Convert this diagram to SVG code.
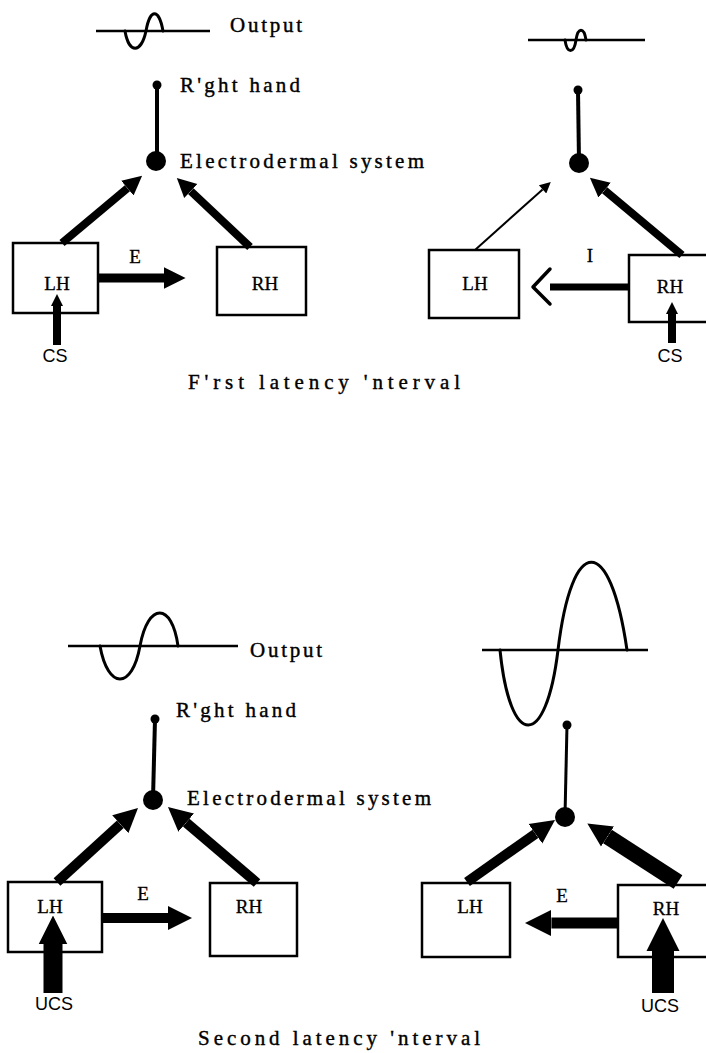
<svg xmlns="http://www.w3.org/2000/svg" width="706" height="1053" viewBox="0 0 706 1053">
<style>
  .box{fill:#fff;stroke:#000;stroke-width:2.5}
  .t{font-family:"Liberation Serif","DejaVu Serif",serif;font-size:21px;fill:#000;stroke:#000;stroke-width:0.4}
  .tb{font-family:"Liberation Serif","DejaVu Serif",serif;font-size:19px;fill:#000;text-anchor:middle;stroke:#000;stroke-width:0.3}
  .ts{font-family:"Liberation Sans Narrow","Liberation Sans",sans-serif;font-size:18px;fill:#000;text-anchor:middle}
  .base{stroke:#000;stroke-width:2.5;fill:none}
  .wave{stroke:#000;stroke-width:3;fill:none;stroke-linecap:round}
  .stem{stroke:#000;stroke-width:4}
  .ar{stroke:#000;fill:none;marker-end:url(#head)}
  .arw{stroke:#000;fill:none;marker-end:url(#headW)}
</style>
<defs>
  <marker id="head" viewBox="0 0 10 10" refX="0" refY="5" markerWidth="2.4" markerHeight="2.6" orient="auto" markerUnits="strokeWidth">
    <path d="M0,0 L10,5 L0,10 z" fill="#000"/>
  </marker>
  <marker id="headW" viewBox="0 0 10 10" refX="0" refY="5" markerWidth="1.5" markerHeight="1.8" orient="auto" markerUnits="strokeWidth">
    <path d="M0,0 L10,5 L0,10 z" fill="#000"/>
  </marker>
  <marker id="headThin" viewBox="0 0 10 10" refX="0" refY="5" markerWidth="14" markerHeight="11" orient="auto" markerUnits="userSpaceOnUse">
    <path d="M0,0 L10,5 L0,10 z" fill="#000"/>
  </marker>
</defs>

<!-- ===== Panel 1 ===== -->
<g id="p1-output">
  <line class="base" x1="96" y1="31" x2="210" y2="31"/>
  <path class="wave" d="M125,31 C129,54 141,54 146,31 C150,8 159,8 163,31"/>
  <text class="t" x="230" y="32" textLength="72" lengthAdjust="spacing">Output</text>
</g>
<g id="p1-hand">
  <line class="stem" x1="157" y1="85" x2="157" y2="160"/>
  <circle cx="157" cy="85" r="4.5"/>
  <text class="t" x="180" y="92" textLength="120" lengthAdjust="spacing">R'ght hand</text>
</g>
<g id="p1-eds">
  <circle cx="156" cy="161" r="10"/>
  <text class="t" x="180" y="168" textLength="244" lengthAdjust="spacing">Electrodermal system</text>
</g>
<g id="p1-lh">
  <rect class="box" x="13" y="243" width="85" height="70"/>
  <text class="tb" x="57" y="290">LH</text>
</g>
<g id="p1-rh">
  <rect class="box" x="217" y="247" width="89" height="68"/>
  <text class="tb" x="265" y="290">RH</text>
</g>
<g id="p1-cs"><text class="ts" x="55" y="362">CS</text></g>
<g id="p1-title"><text class="t" x="188" y="389" textLength="272" lengthAdjust="spacing">F'rst latency 'nterval</text></g>

<!-- ===== Panel 2 ===== -->
<g id="p2-output">
  <line class="base" x1="528" y1="40" x2="645" y2="40"/>
  <path class="wave" d="M565,40 C567,54 574,54 576,40 C578,27 584,27 586,40"/>
</g>
<g id="p2-hand">
  <line class="stem" x1="578" y1="90" x2="579" y2="162"/>
  <circle cx="578" cy="90" r="4.5"/>
</g>
<g id="p2-eds"><circle cx="579" cy="163" r="10"/></g>
<g id="p2-lh">
  <rect class="box" x="429" y="250" width="90" height="68"/>
  <text class="tb" x="475" y="290">LH</text>
</g>
<g id="p2-rh">
  <rect class="box" x="629" y="255" width="90" height="67"/>
  <text class="tb" x="670" y="293">RH</text>
</g>
<g id="p2-cs"><text class="ts" x="670" y="362">CS</text></g>

<!-- ===== Panel 3 ===== -->
<g id="p3-output">
  <line class="base" x1="68" y1="646" x2="238" y2="646"/>
  <path class="wave" d="M100,646 C108,690 132,690 140,646 C148,602 172,602 178,646"/>
  <text class="t" x="250" y="657" textLength="72" lengthAdjust="spacing">Output</text>
</g>
<g id="p3-hand">
  <line class="stem" x1="155" y1="719" x2="153" y2="799"/>
  <circle cx="155" cy="719" r="4.5"/>
  <text class="t" x="176" y="717" textLength="120" lengthAdjust="spacing">R'ght hand</text>
</g>
<g id="p3-eds">
  <circle cx="153" cy="800" r="10"/>
  <text class="t" x="187" y="805" textLength="244" lengthAdjust="spacing">Electrodermal system</text>
</g>
<g id="p3-lh">
  <rect class="box" x="8" y="882" width="94" height="70"/>
  <text class="tb" x="50" y="913">LH</text>
</g>
<g id="p3-rh">
  <rect class="box" x="210" y="883" width="87" height="73"/>
  <text class="tb" x="249" y="913">RH</text>
</g>
<g id="p3-ucs"><text class="ts" x="54" y="1010">UCS</text></g>
<g id="p3-title"><text class="t" x="198" y="1045" textLength="282" lengthAdjust="spacing">Second latency 'nterval</text></g>

<!-- ===== Panel 4 ===== -->
<g id="p4-output">
  <line class="base" x1="482" y1="650" x2="648" y2="650"/>
  <path class="wave" d="M500,650 C510,750 546,750 558,650 C572,533 610,533 627,650"/>
</g>
<g id="p4-hand">
  <line class="stem" x1="567" y1="725" x2="565" y2="816" style="stroke-width:3"/>
  <circle cx="567" cy="725" r="4.5"/>
</g>
<g id="p4-eds"><circle cx="565" cy="817" r="10"/></g>
<g id="p4-lh">
  <rect class="box" x="422" y="883" width="88" height="74"/>
  <text class="tb" x="470" y="913">LH</text>
</g>
<g id="p4-rh">
  <rect class="box" x="618" y="885" width="100" height="72"/>
  <text class="tb" x="666" y="915">RH</text>
</g>
<g id="p4-ucs"><text class="ts" x="660" y="1012">UCS</text></g>

<!-- ===== Connectors ===== -->
<g id="connectors">
  <!-- panel 1 -->
  <line class="ar" x1="62" y1="243" x2="127.4" y2="188.2" stroke-width="8"/>
  <line class="ar" x1="250" y1="247" x2="190.8" y2="191.1" stroke-width="8"/>
  <line class="ar" x1="98" y1="278" x2="164" y2="278" stroke-width="9"/>
  <text class="tb" x="135" y="263">E</text>
  <line class="ar" x1="57" y1="345" x2="57" y2="306" stroke-width="8" style="marker-end:url(#headW)"/>
  <!-- panel 2 -->
  <line x1="475" y1="250" x2="542.6" y2="189.4" stroke="#000" stroke-width="2" marker-end="url(#headThin)"/>
  <line class="ar" x1="682" y1="255" x2="604.6" y2="190.2" stroke-width="8"/>
  <line x1="629" y1="287" x2="550" y2="287" stroke="#000" stroke-width="7"/>
  <polyline points="550,269 533,287 550,304" fill="none" stroke="#000" stroke-width="3.5" stroke-linecap="round" stroke-linejoin="round"/>
  <text class="tb" x="590" y="262">I</text>
  <line class="ar" x1="672" y1="343" x2="672" y2="314" stroke-width="8" style="marker-end:url(#headW)"/>
  <!-- panel 3 -->
  <line class="ar" x1="57" y1="882" x2="120.3" y2="824.2" stroke-width="10"/>
  <line class="ar" x1="257" y1="883" x2="186.2" y2="822.6" stroke-width="10"/>
  <line class="ar" x1="102" y1="918" x2="168" y2="918" stroke-width="10"/>
  <text class="tb" x="143" y="900">E</text>
  <line class="arw" x1="53" y1="993" x2="53" y2="944" stroke-width="19"/>
  <!-- panel 4 -->
  <line class="ar" x1="467" y1="882" x2="535.4" y2="833.8" stroke-width="10"/>
  <line class="arw" x1="678" y1="882" x2="607.5" y2="836.5" stroke-width="16"/>
  <line class="ar" x1="618" y1="923" x2="551.4" y2="923" stroke-width="11"/>
  <text class="tb" x="562" y="902">E</text>
  <line class="arw" x1="663" y1="993" x2="663" y2="951" stroke-width="22"/>
</g>
</svg>
